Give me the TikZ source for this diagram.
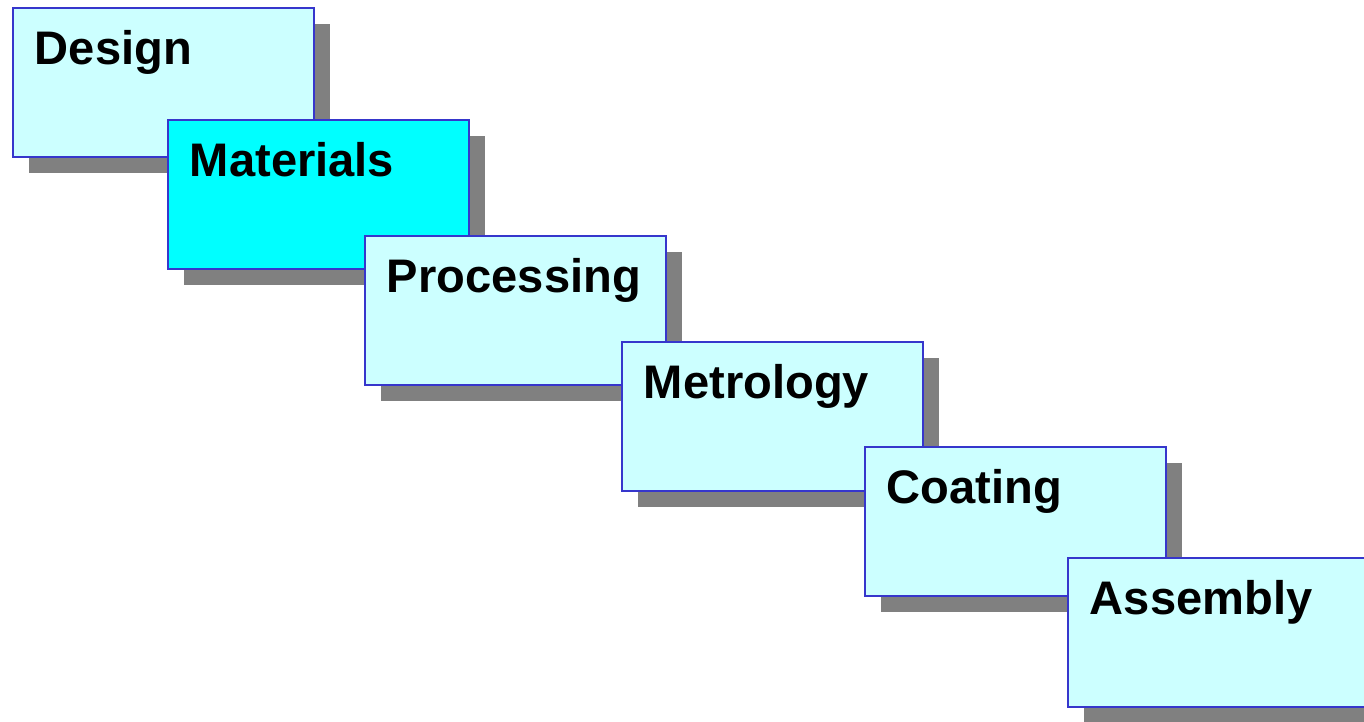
\documentclass[tikz,border=0pt]{standalone}
\usepackage{fontspec}
\setmainfont{Liberation Sans}
\usetikzlibrary{shadows}

\definecolor{paleCyan}{HTML}{CCFFFF}
\definecolor{fullCyan}{HTML}{00FFFF}
\definecolor{boxBlue}{HTML}{3636CC}
\definecolor{shadowGrey}{HTML}{808080}

\begin{document}
\begin{tikzpicture}[x=0.02cm,y=-0.02cm,
  stage node/.style={rectangle,anchor=north west,draw=boxBlue,line width=1.1pt,fill=paleCyan,
    inner xsep=0.44cm,inner ysep=0pt,text width=5.14cm,text height=1.13cm,text depth=1.85cm,
    align=left,font=\fontsize{26.8}{30}\selectfont\bfseries,
    drop shadow={shadow xshift=0.32cm,shadow yshift=-0.32cm,fill=shadowGrey,opacity=1}},
  active node/.style={stage node,fill=fullCyan}]

  \useasboundingbox (0,0) rectangle (1364,721);

  \node[stage node] (design) at (12,7) {Design};
  \node[active node] (materials) at (167,119) {Materials};
  \node[stage node] (processing) at (364,235) {Processing};
  \node[stage node] (metrology) at (621,341) {Metrology};
  \node[stage node] (coating) at (864,446) {Coating};
  \node[stage node] (assembly) at (1067,557) {Assembly};

\end{tikzpicture}
\end{document}
